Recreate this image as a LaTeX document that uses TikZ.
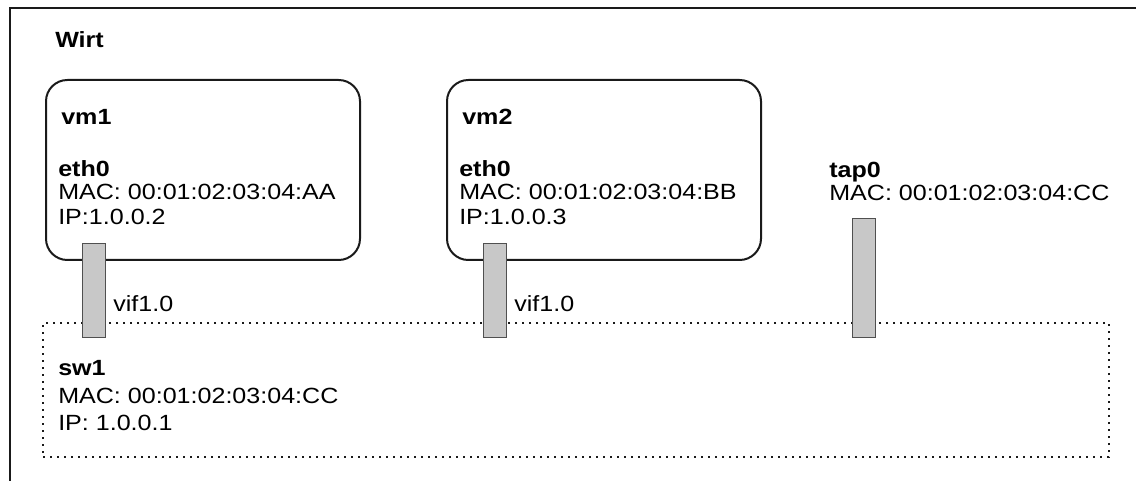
\documentclass[tikz,border=0pt]{standalone}
\usepackage{fontspec}
\setmainfont{Liberation Sans}[FakeStretch=1.14]
\definecolor{portfill}{HTML}{C8C8C8}
\definecolor{portline}{HTML}{505050}
\definecolor{frameline}{HTML}{1A1A1A}
\tikzset{
  txt/.style={anchor=base west, inner sep=0pt, font=\fontsize{16.5}{19}\selectfont},
  txtb/.style={anchor=base west, inner sep=0pt, font=\fontsize{16.5}{19}\selectfont\bfseries},
  vmbox/.style={draw=frameline, line width=1.5pt, rounded corners=16pt, minimum width=235.5pt, minimum height=135pt, anchor=north west, inner sep=0pt},
  swbox/.style={draw=frameline, line width=1.7pt, dash pattern=on 1.6pt off 3.65pt, minimum width=799.5pt, minimum height=100.5pt, anchor=north west, inner sep=0pt},
  port/.style={draw=portline, fill=portfill, line width=0.9pt, minimum width=17.25pt, anchor=north west, inner sep=0pt},
}
\begin{document}
\begin{tikzpicture}[x=0.75pt,y=-0.75pt]
\useasboundingbox (0,0) rectangle (1136,481);
\clip (0,0) rectangle (1136,481);
% host frame
\draw[frameline, line width=1.8pt] (10,500) |- (1150,8);
\node[txtb] (wirt) at (55,48) {Wirt};
% switch
\node[swbox] (sw1) at (42,322) {};
% vms
\node[vmbox] (vm1) at (45,79) {};
\node[vmbox] (vm2) at (446,79) {};
% ports
\node[port, minimum height=70.5pt] (vif1) at (82,243) {};
\node[port, minimum height=70.5pt] (vif2) at (483,243) {};
\node[port, minimum height=89.25pt] (tap) at (852,218) {};
% vm1 text
\node[txtb] (vm1t) at (61,125) {vm1};
\node[txtb] (vm1e) at (58,177) {eth0};
\node[txt] (vm1m) at (58,200) {MAC: 00:01:02:03:04:AA};
\node[txt] (vm1i) at (58,224) {IP:1.0.0.2};
% vm2 text
\node[txtb] (vm2t) at (462,125) {vm2};
\node[txtb] (vm2e) at (459,177) {eth0};
\node[txt] (vm2m) at (459,200) {MAC: 00:01:02:03:04:BB};
\node[txt] (vm2i) at (459,224) {IP:1.0.0.3};
% tap0 text
\node[txtb] (tapt) at (829,178) {tap0};
\node[txt] (tapm) at (829,201) {MAC: 00:01:02:03:04:CC};
% vif labels
\node[txt] (vif1l) at (113,311) {vif1.0};
\node[txt] (vif2l) at (514,311) {vif1.0};
% sw1 text
\node[txtb] (swt) at (58,375) {sw1};
\node[txt] (swm) at (58,403) {MAC: 00:01:02:03:04:CC};
\node[txt] (swi) at (58,430) {IP: 1.0.0.1};
\end{tikzpicture}
\end{document}
